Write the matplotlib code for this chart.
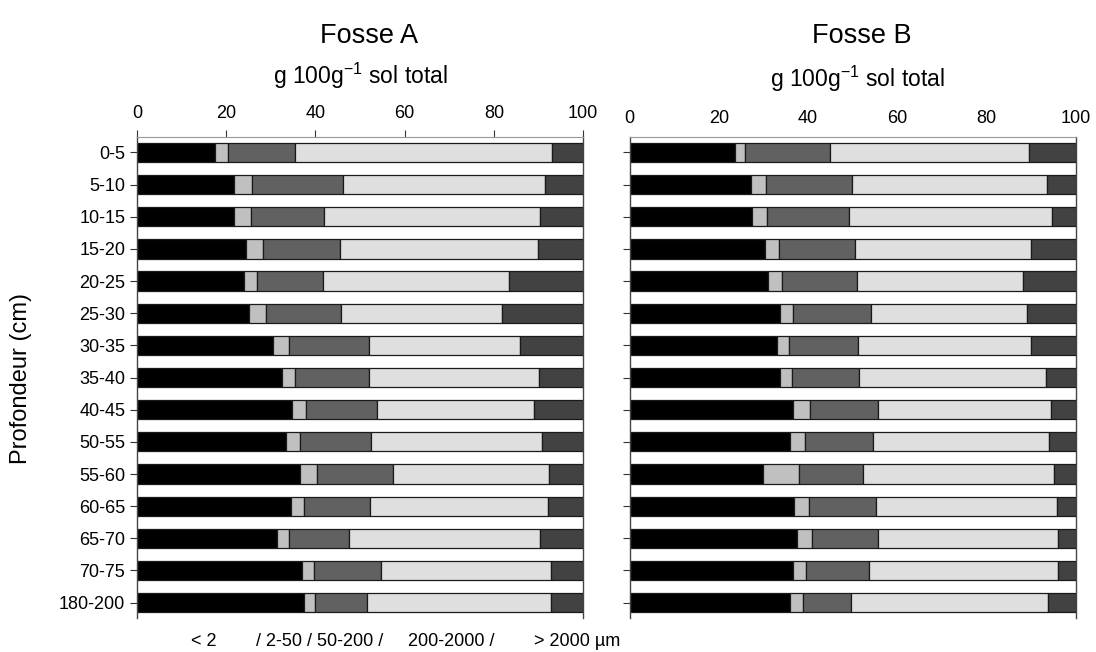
import numpy as np
import matplotlib
matplotlib.use("Agg")
import matplotlib.pyplot as plt

plt.rcParams['font.family'] = ['Liberation Sans', 'DejaVu Sans']

# ── Data (g / 100 g sol total) ───────────────────────────────
depths = ['0-5', '5-10', '10-15', '15-20', '20-25', '25-30', '30-35', '35-40',
          '40-45', '50-55', '55-60', '60-65', '65-70', '70-75', '180-200']
classes = ['< 2', '/ 2-50 / 50-200 /', '200-2000 /', '> 2000 µm']
colors = ['#000000', '#c0c0c0', '#616161', '#dfdfdf', '#424242']

a_clay   = [17.4, 21.8, 21.8, 24.5, 23.9, 25.2, 30.4, 32.4, 34.7, 33.5, 36.6, 34.5, 31.4, 36.9, 37.4]
a_silt   = [3.0, 3.9, 3.8, 3.7, 3.0, 3.8, 3.6, 3.1, 3.1, 3.1, 3.8, 3.0, 2.7, 2.7, 2.4]
a_fine   = [15.1, 20.5, 16.4, 17.3, 14.8, 16.8, 17.9, 16.6, 16.1, 15.9, 17.0, 14.8, 13.5, 15.0, 11.8]
a_coarse = [57.6, 45.3, 48.4, 44.4, 41.8, 36.1, 34.0, 38.0, 35.0, 38.2, 35.0, 39.8, 42.7, 38.1, 41.1]
a_gravel = [6.9, 8.5, 9.6, 10.1, 16.5, 18.1, 14.1, 9.9, 11.1, 9.3, 7.6, 7.9, 9.7, 7.3, 7.3]

b_clay   = [23.6, 27.1, 27.4, 30.3, 31.0, 33.7, 33.0, 33.6, 36.5, 36.0, 29.9, 36.8, 37.5, 36.5, 35.9]
b_silt   = [2.3, 3.4, 3.4, 3.1, 3.1, 2.8, 2.6, 2.7, 3.9, 3.4, 8.0, 3.4, 3.4, 3.0, 3.0]
b_fine   = [19.0, 19.4, 18.4, 17.1, 16.8, 17.5, 15.6, 15.0, 15.2, 15.2, 14.3, 15.0, 14.7, 14.2, 10.8]
b_coarse = [44.6, 43.7, 45.5, 39.4, 37.3, 35.1, 38.8, 42.0, 38.8, 39.3, 42.9, 40.5, 40.3, 42.3, 44.0]
b_gravel = [10.5, 6.4, 5.3, 10.1, 11.8, 10.9, 10.0, 6.7, 5.6, 6.1, 4.9, 4.3, 4.1, 4.0, 6.3]

fosses = {
    'Fosse A': [a_clay, a_silt, a_fine, a_coarse, a_gravel],
    'Fosse B': [b_clay, b_silt, b_fine, b_coarse, b_gravel],
}

fig = plt.figure(figsize=(10.96, 6.52), dpi=100)
ax_a = fig.add_axes([0.125, 0.052, 0.407, 0.738])
ax_b = fig.add_axes([0.5744, 0.052, 0.4074, 0.738])

y = np.arange(len(depths))
for ax, (name, series) in zip([ax_a, ax_b], fosses.items()):
    left = np.zeros(len(depths))
    for vals, col in zip(series, colors):
        ax.barh(y, vals, left=left, height=0.6, color=col,
                edgecolor='#1a1a1a', linewidth=0.9)
        left += np.array(vals)

    ax.set_xlim(0, 100)
    ax.set_ylim(14.48, -0.48)
    ax.set_xticks([0, 20, 40, 60, 80, 100])
    ax.xaxis.tick_top()
    ax.set_yticks(y)
    ax.tick_params(axis='both', labelsize=13, color='#333333')
    ax.tick_params(axis='y', direction='out', length=5)
    ax.spines['bottom'].set_visible(False)
    ax.spines['top'].set_color('#999999')
    ax.spines['top'].set_linewidth(0.8)
    for s in ('left', 'right'):
        ax.spines[s].set_color('#444444')
        ax.spines[s].set_linewidth(1.0)

    cx = (ax.get_position().x0 + ax.get_position().x1) / 2
    fig.text(cx + 0.008, 1 - 36 / 652, name, ha='center', va='center', fontsize=19.5)

ax_a.set_yticklabels(depths)
ax_a.tick_params(axis='x', direction='out', length=5, pad=6)
ax_b.set_yticklabels([])
ax_b.tick_params(axis='x', length=0, pad=7)

sub = 'g 100g$\\mathregular{^{-1}}$ sol total'
fig.text(360 / 1096, 1 - 76 / 652, sub, ha='center', va='center', fontsize=16.5)
fig.text(857 / 1096, 1 - 79 / 652, sub, ha='center', va='center', fontsize=16.5)
fig.text(21 / 1096, 1 - 378 / 652, 'Profondeur (cm)', rotation=90,
         ha='center', va='center', fontsize=17)

# legend line drawn as text pieces (markers are missing in the original)
for lab, xpix in zip(classes, [191, 256, 408, 534]):
    fig.text(xpix / 1096, 1 - 641 / 652, lab, ha='left', va='center', fontsize=13)

fig.savefig('out.png', dpi=100)
